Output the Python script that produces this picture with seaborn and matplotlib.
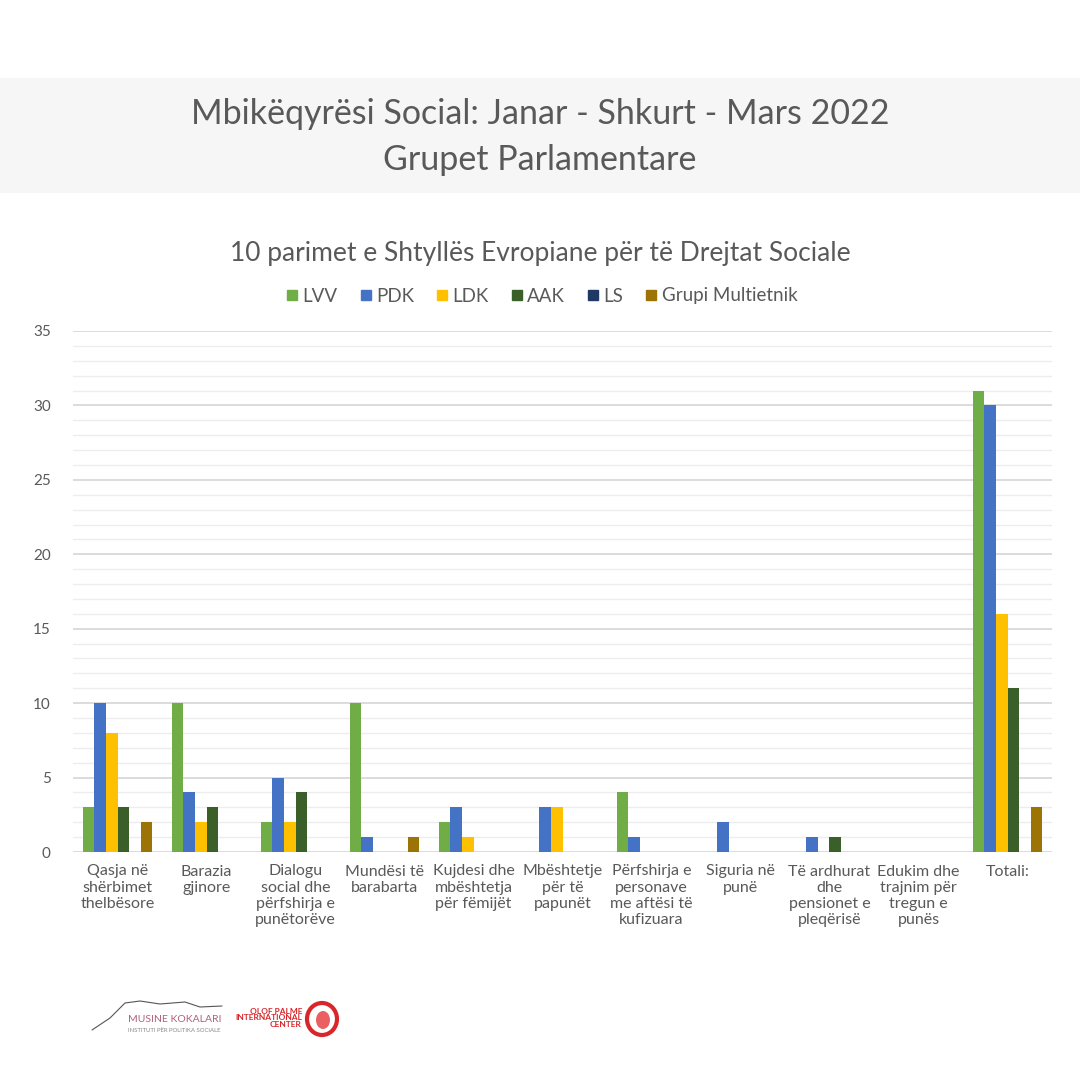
import matplotlib
matplotlib.use("Agg")
import matplotlib.pyplot as plt
import seaborn as sns
import pandas as pd
from matplotlib.patches import Rectangle, Ellipse
from matplotlib.lines import Line2D

categories = [
    "Qasja në\nshërbimet\nthelbësore",
    "Barazia\ngjinore",
    "Dialogu\nsocial dhe\npërfshirja e\npunëtorëve",
    "Mundësi të\nbarabarta",
    "Kujdesi dhe\nmbështetja\npër fëmijët",
    "Mbështetje\npër të\npapunët",
    "Përfshirja e\npersonave\nme aftësi të\nkufizuara",
    "Siguria në\npunë",
    "Të ardhurat\ndhe\npensionet e\npleqërisë",
    "Edukim dhe\ntrajnim për\ntregun e\npunës",
    "Totali:",
]
series_names = ["LVV", "PDK", "LDK", "AAK", "LS", "Grupi Multietnik"]
lvv = [3, 10, 2, 10, 2, 0, 4, 0, 0, 0, 31]
pdk = [10, 4, 5, 1, 3, 3, 1, 2, 1, 0, 30]
ldk = [8, 2, 2, 0, 1, 3, 0, 0, 0, 0, 16]
aak = [3, 3, 4, 0, 0, 0, 0, 0, 1, 0, 11]
ls = [0, 0, 0, 0, 0, 0, 0, 0, 0, 0, 0]
gm = [2, 0, 0, 1, 0, 0, 0, 0, 0, 0, 3]
colors = ["#70AD47", "#4472C4", "#FFC000", "#3A5F28", "#203864", "#9C7305"]

title = "Mbikëqyrësi Social: Janar - Shkurt - Mars 2022\nGrupet Parlamentare"
subtitle = "10 parimet e Shtyllës Evropiane për të Drejtat Sociale"

rows = []
for name, vals in zip(series_names, [lvv, pdk, ldk, aak, ls, gm]):
    for c, v in zip(categories, vals):
        rows.append({"cat": c, "series": name, "value": v})
df = pd.DataFrame(rows)

sns.set_style("white")
plt.rcParams["font.family"] = ["Lato", "DejaVu Sans"]
text_col = "#595959"

fig = plt.figure(figsize=(10.8, 10.8), dpi=100)
fig.patch.set_facecolor("white")

# title band
fig.patches.append(Rectangle((0, (1080 - 193) / 1080), 1, 115 / 1080,
                             transform=fig.transFigure, facecolor="#F6F6F6",
                             edgecolor="none", zorder=0))
fig.text(0.5, (1080 - 137) / 1080, title, ha="center", va="center",
         fontsize=24.5, color=text_col, linespacing=1.5)
fig.text(0.5, (1080 - 253) / 1080, subtitle, ha="center", va="center",
         fontsize=19, color=text_col)

ax = fig.add_axes([73 / 1080, (1080 - 852) / 1080, (1052 - 73) / 1080, 521 / 1080])
sns.barplot(data=df, x="cat", y="value", hue="series", palette=colors,
            width=0.78, ax=ax, legend=False, saturation=1, linewidth=0)
ax.set_ylim(0, 35)
ax.set_xlim(-0.5, len(categories) - 0.5)
ax.set_yticks(range(0, 36, 5))
ax.set_yticks(range(0, 36, 1), minor=True)
ax.grid(axis="y", which="major", color="#D9D9D9", linewidth=1.3, zorder=0)
ax.grid(axis="y", which="minor", color="#EDEDED", linewidth=1.0, zorder=0)
ax.set_axisbelow(True)
for s in ax.spines.values():
    s.set_visible(False)
ax.set_xlabel("")
ax.set_ylabel("")
ax.tick_params(axis="both", length=0)
ax.tick_params(axis="y", labelsize=11, labelcolor=text_col, pad=16)
ax.tick_params(axis="x", labelsize=11.5, labelcolor=text_col, pad=9)
ax.set_xticks(range(len(categories)))
ax.set_xticklabels(categories, linespacing=1.2, va="top")

handles = [Line2D([0], [0], marker="s", linestyle="none", markersize=7,
                  markerfacecolor=c, markeredgecolor=c) for c in colors]
fig.legend(handles, series_names, loc="center", bbox_to_anchor=(0.5, (1080 - 296) / 1080),
           ncol=6, frameon=False, fontsize=13.5, handletextpad=0.05,
           columnspacing=1.0, labelcolor=text_col, handlelength=1.0)

# logos approximated as text
fig.text(128 / 1080, (1080 - 1020) / 1080, "MUSINE KOKALARI", fontsize=7.5,
         color="#B0607A", ha="left", va="center")
fig.text(128 / 1080, (1080 - 1031) / 1080, "INSTITUTI PËR POLITIKA SOCIALE", fontsize=4.3,
         color="#888888", ha="left", va="center")
fig.add_artist(Line2D([92 / 1080, 110 / 1080, 125 / 1080, 140 / 1080, 160 / 1080,
                       185 / 1080, 200 / 1080, 222 / 1080],
                      [(1080 - 1030) / 1080, (1080 - 1018) / 1080, (1080 - 1003) / 1080,
                       (1080 - 1001) / 1080, (1080 - 1004) / 1080, (1080 - 1002) / 1080,
                       (1080 - 1007) / 1080, (1080 - 1006) / 1080],
                      transform=fig.transFigure, color="#555555", linewidth=0.8))
fig.text(302 / 1080, (1080 - 1018) / 1080, "OLOF PALME\nINTERNATIONAL\nCENTER", fontsize=6,
         color="#D8262B", ha="right", va="center", fontweight="bold", linespacing=0.85)
fig.patches.append(Ellipse((322 / 1080, (1080 - 1019) / 1080), 30 / 1080, 32 / 1080,
                           transform=fig.transFigure, facecolor="white",
                           edgecolor="#D8262B", linewidth=3))
fig.patches.append(Ellipse((323 / 1080, (1080 - 1020) / 1080), 14 / 1080, 18 / 1080,
                           transform=fig.transFigure, facecolor="#E5383B",
                           edgecolor="none", alpha=0.8))

fig.savefig("out.png", dpi=100, facecolor="white")
